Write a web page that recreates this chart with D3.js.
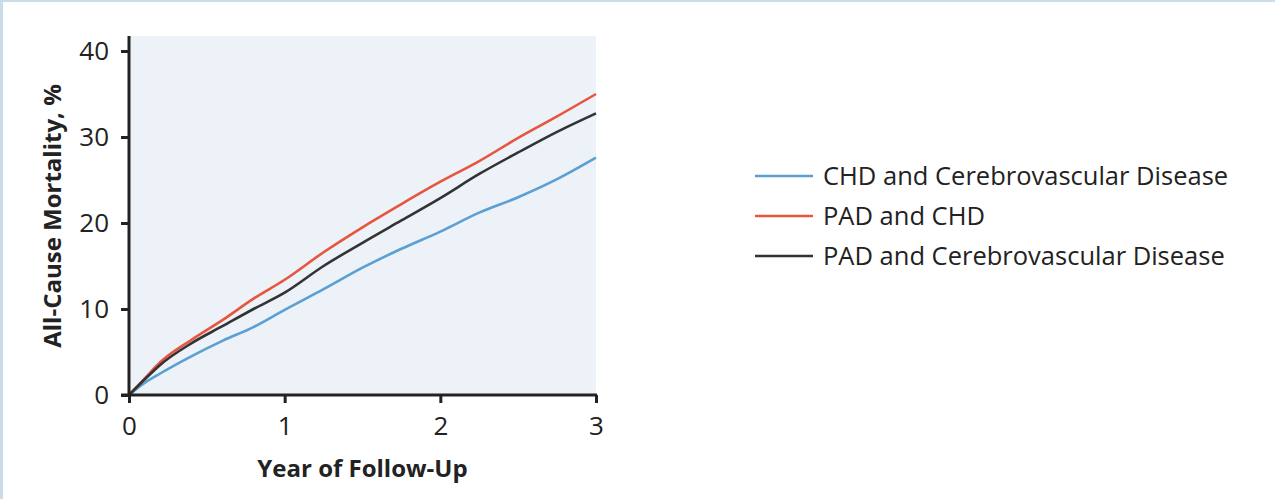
<!DOCTYPE html>
<html>
<head>
<meta charset="utf-8">
<script src="https://cdn.jsdelivr.net/npm/d3@7"></script>
<style>
  html, body { margin: 0; padding: 0; background: #fff; }
  svg { display: block; }
  text { font-family: "Open Sans", sans-serif; fill: #222; }
</style>
</head>
<body>
<svg></svg>
<script>
const width = 1275;
const height = 499;

// follow-up years where values were read
const years = [0, 0.1, 0.2, 0.4, 0.6, 0.8, 1.0, 1.25, 1.5, 1.75, 2.0, 2.25, 2.5, 2.75, 3.0];

// all-cause mortality, %
const chdCerebro = [0, 1.4, 2.5, 4.5, 6.3, 7.9, 9.9, 12.3, 14.8, 17.0, 19.0, 21.2, 23.0, 25.1, 27.6];
const padChd = [0, 1.9, 3.8, 6.4, 8.7, 11.2, 13.4, 16.6, 19.5, 22.2, 24.8, 27.2, 29.9, 32.4, 35.0];
const padCerebro = [0, 1.8, 3.5, 6.0, 8.0, 10.0, 11.9, 15.0, 17.7, 20.3, 22.9, 25.7, 28.2, 30.6, 32.75];

const seriesNames = ["CHD and Cerebrovascular Disease", "PAD and CHD", "PAD and Cerebrovascular Disease"];
const seriesColors = ["#5b9fd3", "#e8553f", "#333333"];

const xTicks = [0, 1, 2, 3];
const yTicks = [0, 10, 20, 30, 40];

const series = [chdCerebro, padChd, padCerebro].map((vals, i) => ({
    name: seriesNames[i],
    color: seriesColors[i],
    values: vals.map((v, j) => ({ year: years[j], value: v }))
}));

const svg = d3.select('svg')
    .attr('width', width)
    .attr('height', height);

// frame strips (top / left)
svg.append('rect').attr('x', 0).attr('y', 0).attr('width', width).attr('height', 2).attr('fill', '#c9dcea');
svg.append('rect').attr('x', 0).attr('y', 0).attr('width', 3).attr('height', height).attr('fill', '#c9dcea');

const x = d3.scaleLinear().domain([0, 3]).range([129, 596]);
const y = d3.scaleLinear().domain([0, 40]).range([395, 51]);
const yTop = 36;

// plot background
svg.append('rect')
    .attr('x', x(0))
    .attr('y', yTop)
    .attr('width', x(3) - x(0))
    .attr('height', y(0) - yTop)
    .attr('fill', '#ecf2f7');

// lines
const line = d3.line()
    .x(d => x(d.year))
    .y(d => y(d.value))
    .curve(d3.curveMonotoneX);

svg.append('g')
    .selectAll('path')
    .data(series)
    .enter().append('path')
    .attr('d', d => line(d.values))
    .attr('fill', 'none')
    .attr('stroke', d => d.color)
    .attr('stroke-width', 2.6)
    .attr('stroke-linejoin', 'round');

// axes
const yAxis = svg.append('g')
    .attr('transform', `translate(${x(0)},0)`)
    .call(d3.axisLeft(y).tickValues(yTicks).tickSize(8).tickPadding(12).tickFormat(d3.format('d')));

yAxis.select('.domain').remove();
yAxis.append('line')
    .attr('x1', 0).attr('x2', 0)
    .attr('y1', yTop).attr('y2', y(0) + 1.5)
    .attr('stroke', '#222').attr('stroke-width', 3);

const xAxis = svg.append('g')
    .attr('transform', `translate(0,${y(0)})`)
    .call(d3.axisBottom(x).tickValues(xTicks).tickSize(8).tickPadding(14).tickFormat(d3.format('d')));

xAxis.select('.domain').remove();
xAxis.append('line')
    .attr('x1', x(0) - 8).attr('x2', x(3) + 1)
    .attr('y1', 0).attr('y2', 0)
    .attr('stroke', '#222').attr('stroke-width', 3);

svg.selectAll('.tick line').attr('stroke', '#222').attr('stroke-width', 3);
svg.selectAll('.tick text')
    .attr('fill', '#222')
    .style('font-family', '"Open Sans", sans-serif')
    .style('font-size', '26px');

// axis titles
svg.append('text')
    .attr('x', (x(0) + x(3)) / 2)
    .attr('y', 477)
    .attr('text-anchor', 'middle')
    .style('font-size', '24px')
    .style('font-weight', 'bold')
    .text('Year of Follow-Up');

svg.append('text')
    .attr('transform', `translate(61,216) rotate(-90)`)
    .attr('text-anchor', 'middle')
    .style('font-size', '24px')
    .style('font-weight', 'bold')
    .text('All-Cause Mortality, %');

// legend
const legend = svg.append('g')
    .selectAll('g')
    .data(series)
    .enter().append('g')
    .attr('transform', (d, i) => `translate(755,${176 + i * 40})`);

legend.append('line')
    .attr('x1', 0).attr('x2', 58)
    .attr('stroke', d => d.color)
    .attr('stroke-width', 2.6);

legend.append('text')
    .attr('x', 68)
    .attr('dy', '0.36em')
    .style('font-size', '25.5px')
    .text(d => d.name);
</script>
</body>
</html>
